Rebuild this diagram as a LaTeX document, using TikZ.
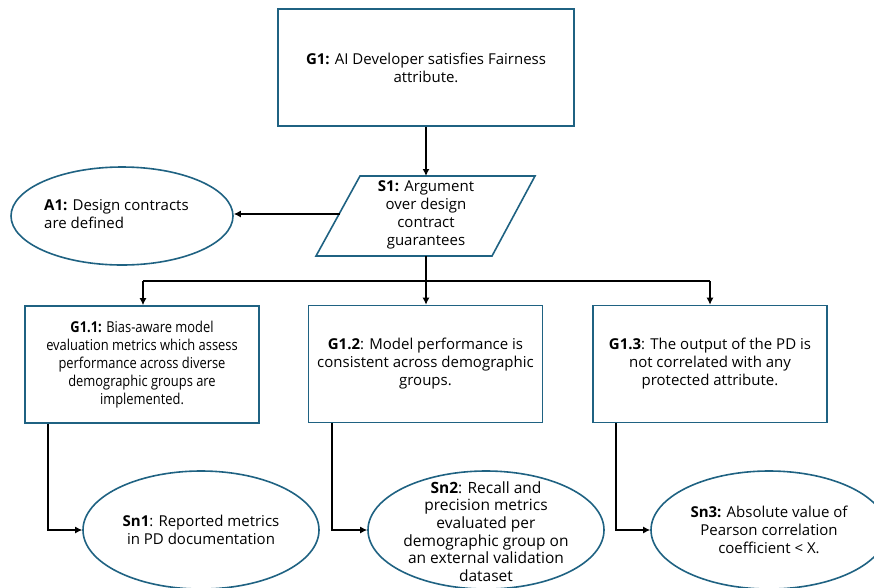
\documentclass[tikz,border=0pt]{standalone}
\usepackage{fontspec}
\setmainfont{Open Sans}
\newfontfamily\narrowsans{Open Sans}[FakeStretch=0.86]
\usetikzlibrary{shapes.geometric,arrows.meta}
\definecolor{gsnline}{HTML}{1F6282}
\begin{document}
\begin{tikzpicture}[x=1pt,y=-1pt,
  every node/.style={font=\fontsize{15}{18}\selectfont, inner sep=0pt},
  goalbox/.style={draw=gsnline, line width=1.6pt, minimum width=234pt, minimum height=117pt, align=center},
  solnode/.style={draw=gsnline, line width=1.6pt, ellipse, minimum width=236pt, minimum height=118pt, align=center},
  link/.style={draw=black, line width=1.3pt, -{Latex[length=7pt,width=7pt]}}
]
\useasboundingbox (0,0) rectangle (874,587);
\clip (0,0) rectangle (874,587);

% top goal
\node[goalbox, minimum width=296pt] (g1) at (426,67.5) {\textbf{G1:} AI Developer satisfies Fairness\\attribute.};

% strategy (parallelogram)
\coordinate (s1tl) at (360,176);
\coordinate (s1tr) at (535,176);
\coordinate (s1br) at (492,256);
\coordinate (s1bl) at (316,256);
\draw[gsnline, line width=1.6pt] (s1tl) -- (s1tr) -- (s1br) -- (s1bl) -- cycle;
\node[align=center] (s1) at (426,215) {\textbf{S1:} Argument\\over design\\contract\\guarantees};
\coordinate (s1top) at (426,176);
\coordinate (s1bot) at (426,256);
\coordinate (s1left) at (340,214);

% assumption
\node[draw=gsnline, line width=1.6pt, ellipse, minimum width=222pt, minimum height=98pt] (a1) at (122,216) {};
\node[align=left, anchor=west] (a1t) at (44,214) {\textbf{A1:} Design contracts\\are defined};

% sub-goals
\node[goalbox, font=\narrowsans\fontsize{15}{18}\selectfont] (g11) at (142,364.5) {\textbf{G1.1:} Bias-aware model\\evaluation metrics which assess\\performance across diverse\\demographic groups are\\implemented.};
\node[goalbox] (g12) at (425.5,364) {\textbf{G1.2}: Model performance is\\consistent across demographic\\groups.};
\node[goalbox] (g13) at (710,364) {\textbf{G1.3}: The output of the PD is\\not correlated with any\\protected attribute.};

% solutions
\node[solnode] (sn1) at (201,530) {\textbf{Sn1}: Reported metrics\\in PD documentation};
\node[solnode] (sn2) at (486,530) {};
\node[align=center, font=\fontsize{15.5}{17.6}\selectfont] (sn2t) at (486,531.5) {\textbf{Sn2}: Recall and\\precision metrics\\evaluated per\\demographic group on\\an external validation\\dataset};
\node[solnode] (sn3) at (769,530) {\textbf{Sn3:} Absolute value of\\Pearson correlation\\coefficient < X.};

% connectors
\draw[link] (g1.south) -- (s1top);
\draw[link] (s1left) -- (s1left -| a1.east);
\coordinate (fork) at (426,281);
\draw[line width=1.3pt] (s1bot) -- (fork);
\draw[line width=1.3pt] (143,281) -- (710,281);
\draw[link] (143,281) -- (g11.north -| 143,0);
\draw[link] (fork) -- (g12.north -| fork);
\draw[link] (710,281) -- (g13.north -| 710,0);

\draw[link] (g11.south -| 48,0) |- (sn1.west);
\draw[link] (g12.south -| 332,0) |- (sn2.west);
\draw[link] (g13.south -| 616,0) |- (sn3.west);
\end{tikzpicture}
\end{document}
